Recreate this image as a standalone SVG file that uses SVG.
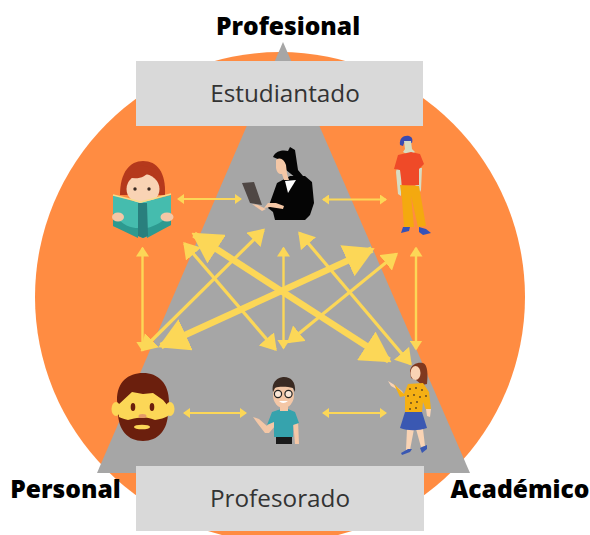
<svg xmlns="http://www.w3.org/2000/svg" width="590" height="535" viewBox="0 0 590 535">
<style>
.t{font-family:"Open Sans","Liberation Sans",sans-serif}
.h{font-size:24.6px;font-weight:800;fill:#000;text-anchor:middle}
.b{font-size:24.3px;fill:#333;text-anchor:middle}
.box{fill:#d9d9d9}
.c{fill:none;stroke:#fcd757}
.s{stroke-width:2;marker-start:url(#ms);marker-end:url(#ms)}
.m{stroke-width:2.400;marker-start:url(#mm);marker-end:url(#mm)}
.n{stroke-width:3.200;marker-start:url(#mn);marker-end:url(#mn)}
.l{stroke-width:6.500;marker-start:url(#ml);marker-end:url(#ml)}
.skin{fill:#f9d3b4}.skin2{fill:#f4c7a6}.dk{fill:#3a2a22}
</style>
<defs>
<marker id="ms" viewBox="0 0 7 10" markerUnits="userSpaceOnUse" markerWidth="7" markerHeight="10" refX="6" refY="5" orient="auto-start-reverse"><path d="M0 0L7 5L0 10Z" fill="#fcd757"/></marker>
<marker id="mm" viewBox="0 0 10 13" markerUnits="userSpaceOnUse" markerWidth="10" markerHeight="13" refX="8.500" refY="6.500" orient="auto-start-reverse"><path d="M0 0L10 6.500L0 13Z" fill="#fcd757"/></marker>
<marker id="mn" viewBox="0 0 16 20" markerUnits="userSpaceOnUse" markerWidth="16" markerHeight="20" refX="14" refY="10" orient="auto-start-reverse"><path d="M0 0L16 10L0 20Z" fill="#fcd757"/></marker>
<marker id="ml" viewBox="0 0 30 34" markerUnits="userSpaceOnUse" markerWidth="30" markerHeight="34" refX="27" refY="17" orient="auto-start-reverse"><path d="M0 0L30 17L0 34Z" fill="#fcd757"/></marker>
</defs>
<rect width="590" height="535" fill="#fff"/>
<circle id="circle" cx="280" cy="297" r="245" fill="#ff8c42"/>
<polygon id="triangle" points="283,42 97,473 470,473" fill="#a6a6a6"/>
<g id="node-estudiantado"><rect class="box" x="136" y="61" width="287" height="65"/><text class="t b" x="285" y="102">Estudiantado</text></g>
<g id="node-profesorado"><rect class="box" x="136" y="466" width="288" height="65"/><text class="t b" x="280" y="507">Profesorado</text></g>
<g id="label-profesional"><text class="t h" x="288" y="35">Profesional</text></g>
<g id="label-personal"><text class="t h" x="65.500" y="498">Personal</text></g>
<g id="label-academico"><text class="t h" x="520" y="498">Académico</text></g>
<g id="connectors">
<path class="c s" d="M178 199H241"/><path class="c s" d="M323 199.500H386"/>
<path class="c s" d="M184 413H246"/><path class="c s" d="M323 413H386"/>
<path class="c m" d="M142.500 248V350"/><path class="c m" d="M416 248V349"/>
<path class="c m" d="M283.500 248V348"/>
<path class="c n" d="M263.500 230L142 350"/>
<path class="c n" d="M184.500 243.500L275.500 349.500"/>
<path class="c n" d="M299.500 233L410.500 364"/>
<path class="c n" d="M396.500 254L288.500 342"/>
<path class="c l" d="M194 234.500L389 360.500"/>
<path class="c l" d="M372 249.500L161 346"/>
</g>
<g id="node-reader">
<path d="M120 195C120 172 130 161 143 161C157 161 166 172 165 195Z" fill="#b5391c"/>
<ellipse cx="143" cy="189" rx="16.500" ry="15" class="skin"/>
<path d="M128 177C136 180 146 178 150 170C153 176 158 178 160 182L160 170L140 165Z" fill="#b5391c"/>
<circle cx="135" cy="189" r="1.700" class="dk"/><circle cx="149" cy="189" r="1.700" class="dk"/>
<path d="M113 195L140 203L171 195V225L143 238L113 226Z" fill="#45bcae"/>
<path d="M113 213C122 226 132 228 138 228V238L113 226Z M171 213C163 222 155 226 147 228V238L171 225Z" fill="#2d9a90"/>
<path d="M138 203H147L148 236L143 238L138 236Z" fill="#297f7d"/>
<path d="M113 195L141 202L171 194" fill="none" stroke="#f7dd8c" stroke-width="1.500"/>
<ellipse cx="118" cy="217" rx="6" ry="4.500" class="skin2"/><ellipse cx="167" cy="217" rx="6.500" ry="4.500" class="skin2"/>
</g>
<g id="node-laptop-woman">
<path d="M277 183L290 176L305 176L312 182L314 203L310 215L305 220H275L273 212L268 208L272 197Z" fill="#050505"/>
<path d="M273 157C276 150 284 150 288 151L290 147L295 150L298 170L303 176L296 178L286 170L280 160Z" fill="#050505"/>
<path d="M276 160C280 157 284 159 286 165L287 174L289 180L284 180L282 174C278 174 277 172 276 168Z" class="skin2"/>
<path d="M285 181L296 180L288 193Z" fill="#fff"/>
<path d="M242 183L254 182L262 205L250 203Z" fill="#4f4744"/>
<path d="M252 204L258 205L266 209L262 211Z" class="skin2"/>
<path d="M268 203L276 203L284 206L283 209L270 207L264 208Z" class="skin2"/>
</g>
<g id="node-standing-man">
<path d="M400 145C399 138 404 135 409 136C412 137 413 139 412 143H404L403 146Z" fill="#3a4ab0"/>
<path d="M404 141H411L412 149L415 152L410 156L403 152L405 149Z" fill="#d7dcc2"/>
<path d="M397 167L396 172L398 194L401 196L402 172Z M417 168L415 190L418 196L421 190L422 168Z" fill="#d7dcc2"/>
<path d="M398 155L411 152L420 154L424 164L419 169L419 185L402 186L400 170L394 169Z" fill="#ef4a28"/>
<path d="M400 185L419 186L426 226L418 227L411 196L414 227H404L402 199Z" fill="#f4a90f"/>
<path d="M403 227L410 227L409 231L401 233Z" fill="#3552b8"/><path d="M419 227L426 229L431 233L423 235L419 232Z" fill="#3552b8"/>
</g>
<g id="node-bearded-man">
<path d="M117 400C117 382 128 373 143 373C158 373 169 383 169 402L168 412C168 430 158 441 143 441C128 441 118 430 118 412Z" fill="#6b1f0d"/>
<path d="M118 405L132 392L143 394L153 393L163 400L168 406L168 416C165 418 160 419 155 420C150 418 145 417 142 418C138 417 133 419 128 420C124 419 121 418 119 417Z" fill="#fcd757"/>
<ellipse cx="116" cy="409" rx="4.500" ry="7" fill="#fcd757"/><ellipse cx="170" cy="409" rx="4.500" ry="7" fill="#fcd757"/>
<ellipse cx="133" cy="407" rx="2.300" ry="4" fill="#6b1f0d"/><ellipse cx="152" cy="407" rx="2.300" ry="4" fill="#6b1f0d"/>
<ellipse cx="142.500" cy="416" rx="4" ry="2" fill="#e59a69"/>
<ellipse cx="142" cy="427" rx="8" ry="2.300" fill="#fcd757"/>
</g>
<g id="node-teacher">
<path d="M253 417L259 419L267 426L272 415L276 425L269 433L265 433L258 424Z" class="skin2"/>
<path d="M293 420L298 420L299 444L295 444Z" class="skin2"/>
<path d="M267 425L272 412L281 409H288L295 412L299 423L293 425L293 437H274L274 422Z" fill="#36a3ad"/>
<rect x="276" y="437" width="16" height="7" fill="#1a1a1a"/>
<rect x="280" y="402" width="8" height="9" class="skin2"/>
<ellipse cx="283.500" cy="395" rx="10.500" ry="13" class="skin2"/>
<path d="M273 392C271 381 279 377 284 377C291 377 296 382 295 392L293 388C288 387 280 386 275 388Z" fill="#3a2a22"/>
<circle cx="278" cy="394" r="3.600" fill="#f9e6d6" stroke="#222" stroke-width="1.200"/><circle cx="288.500" cy="394" r="3.600" fill="#f9e6d6" stroke="#222" stroke-width="1.200"/>
<path d="M279 401Q283 405 288 401Z" fill="#fff"/>
</g>
<g id="node-woman">
<path d="M410 371C411 364 418 362 423 363C428 365 428 375 427 384L422 385L416 380L411 378Z" fill="#80391f"/>
<ellipse cx="415.500" cy="373" rx="5" ry="7" class="skin"/>
<path d="M388 381L393 384L402 391L405 397L400 391L391 386Z" class="skin"/>
<path d="M394 384L404 394L408 384L423 383L429 392L431 409L426 410L423 402L422 412H405L405 396L400 397Z" fill="#f5b014"/>
<g fill="#5a4020"><circle cx="410" cy="389" r=".9"/><circle cx="416" cy="388" r=".9"/><circle cx="422" cy="390" r=".9"/><circle cx="408" cy="396" r=".9"/><circle cx="414" cy="395" r=".9"/><circle cx="420" cy="397" r=".9"/><circle cx="426" cy="396" r=".9"/><circle cx="411" cy="403" r=".9"/><circle cx="417" cy="402" r=".9"/><circle cx="410" cy="409" r=".9"/><circle cx="416" cy="408" r=".9"/></g>
<path d="M426 409L431 409L430 417L427 416Z" class="skin"/>
<path d="M407 429L414 429L410 450L406 450Z M416 429L423 429L425 446L421 447Z" class="skin"/>
<path d="M405 412H422L427 428C418 431 408 431 400 428Z" fill="#3a58b2"/>
<path d="M401 453L408 449L412 449L410 452L402 455Z M420 448L427 445L427 449L422 453Z" fill="#3a58b2"/>
</g>
</svg>
